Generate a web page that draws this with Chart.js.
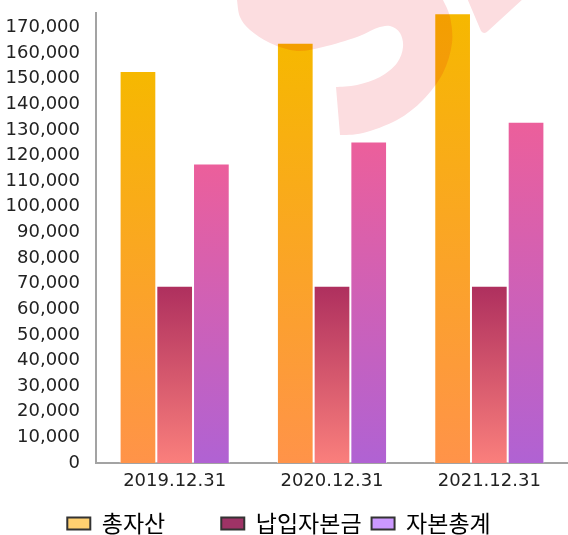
<!DOCTYPE html>
<html><head><meta charset="utf-8">
<script src="https://cdn.jsdelivr.net/npm/chart.js@4"></script>
<style>html,body{margin:0;padding:0;background:#fff}#wrap{width:568px;height:535px;position:relative}</style>
</head><body><div id="wrap"><canvas id="c" width="568" height="535"></canvas></div>
<script>
const categories = ['2019.12.31', '2020.12.31', '2021.12.31'];
const seriesNames = ['총자산', '납입자본금', '자본총계'];
const totalAssets = [153000, 164000, 175500];
const paidInCapital = [69200, 69200, 69200];
const totalEquity = [116900, 125500, 133200];
const yTickValues = [0, 10000, 20000, 30000, 40000, 50000, 60000, 70000, 80000, 90000,
  100000, 110000, 120000, 130000, 140000, 150000, 160000, 170000];
const yMax = 175600;

function grad(top, bottom) {
  return (ctx) => {
    const ch = ctx.chart;
    const ys = ch.scales && ch.scales.y;
    if (!ys || ctx.type !== 'data') return bottom;
    const yT = ys.getPixelForValue(ctx.raw);
    const yB = ys.getPixelForValue(0);
    if (!isFinite(yT) || !isFinite(yB) || yT === yB) return bottom;
    const g = ch.ctx.createLinearGradient(0, yT, 0, yB);
    g.addColorStop(0, top);
    g.addColorStop(1, bottom);
    return g;
  };
}

const legendFill = ['#FFD070', '#9E3366', '#CC99FF'];
const legendPad = ['\u2002\u2002\u2002\u2002', '', ''];

const legendShift = {
  id: 'legendShift',
  afterLayout(chart) {
    const l = chart.legend;
    if (l) { l.top += 10; l.bottom += 10; l.left -= 5; l.right -= 5; }
  }
};

// faint decorative watermark (site logo) multiplied over the plot
function spline(c, pts) {
  for (let i = 0; i < pts.length - 1; i++) {
    const p0 = pts[i - 1] || pts[i], p1 = pts[i], p2 = pts[i + 1], p3 = pts[i + 2] || pts[i + 1];
    c.bezierCurveTo(p1[0] + (p2[0] - p0[0]) / 6, p1[1] + (p2[1] - p0[1]) / 6,
      p2[0] - (p3[0] - p1[0]) / 6, p2[1] - (p3[1] - p1[1]) / 6, p2[0], p2[1]);
  }
}
const watermark = {
  id: 'watermark',
  afterDraw(chart) {
    const c = chart.ctx;
    const chainA = [[237,0],[240,17],[250,30],[270,43],[297,51],[323,47],[357,37],[377,28],[390,26],[400,33],
      [403,47],[397,63],[380,77],[357,85],[336,87]];
    const chainB = [[340,135],[363,133],[397,120],[423,100],[443,73],[452,43],[450,17],[443,0]];
    c.save();
    c.globalCompositeOperation = 'multiply';
    c.fillStyle = '#FCDDE0';
    c.beginPath();
    c.moveTo(chainA[0][0], chainA[0][1]);
    spline(c, chainA);
    c.lineTo(chainB[0][0], chainB[0][1]);
    spline(c, chainB);
    c.lineTo(443, -5);
    c.lineTo(237, -5);
    c.closePath();
    c.fill();
    c.beginPath();
    c.moveTo(467, -2);
    c.lineTo(481, 31);
    c.quadraticCurveTo(484, 35, 488, 31);
    c.lineTo(524, -2);
    c.closePath();
    c.fill();
    c.restore();
  }
};

new Chart(document.getElementById('c'), {
  type: 'bar',
  data: {
    labels: categories,
    datasets: [
      { label: seriesNames[0], data: totalAssets, backgroundColor: grad('#F6B800', '#FF9349') },
      { label: seriesNames[1], data: paidInCapital, backgroundColor: grad('#AE2F5E', '#FA7F7C') },
      { label: seriesNames[2], data: totalEquity, backgroundColor: grad('#EC5F9B', '#B062D3') }
    ].map(d => Object.assign(d, { borderColor: 'rgba(255,255,255,0.55)', borderWidth: 1, barPercentage: 1.0, categoryPercentage: 0.7 }))
  },
  options: {
    responsive: false,
    animation: false,
    devicePixelRatio: 1,
    layout: { padding: { top: 13, right: 0, left: 0, bottom: 0 } },
    plugins: {
      tooltip: { enabled: false },
      legend: {
        position: 'bottom',
        labels: {
          font: { family: '"Noto Sans CJK KR"', size: 23 },
          color: '#222',
          boxWidth: 23,
          boxHeight: 12,
          padding: 10,
          generateLabels: (chart) => seriesNames.map((n, i) => ({
            text: n + legendPad[i], fillStyle: legendFill[i], strokeStyle: '#333', lineWidth: 2, datasetIndex: i, hidden: false
          }))
        }
      }
    },
    scales: {
      x: {
        grid: { display: false, drawTicks: false },
        border: { color: '#a3a3a3', width: 2 },
        ticks: { font: { family: '"DejaVu Sans"', size: 18 }, color: '#222', padding: 8 },
        afterFit: (s) => { s.height = 29; }
      },
      y: {
        min: 0, max: yMax,
        grid: { display: false, drawTicks: false },
        border: { color: '#a3a3a3', width: 2 },
        ticks: {
          autoSkip: false,
          font: { family: '"DejaVu Sans"', size: 18 }, color: '#222', padding: 16,
          callback: (v) => Number(v).toLocaleString('en-US')
        },
        afterBuildTicks: (s) => { s.ticks = yTickValues.map(v => ({ value: v })); },
        afterFit: (s) => { s.width = 96; s.paddingTop = 0; s.paddingBottom = 0; }
      }
    }
  },
  plugins: [legendShift, watermark]
});
</script>
</body></html>
